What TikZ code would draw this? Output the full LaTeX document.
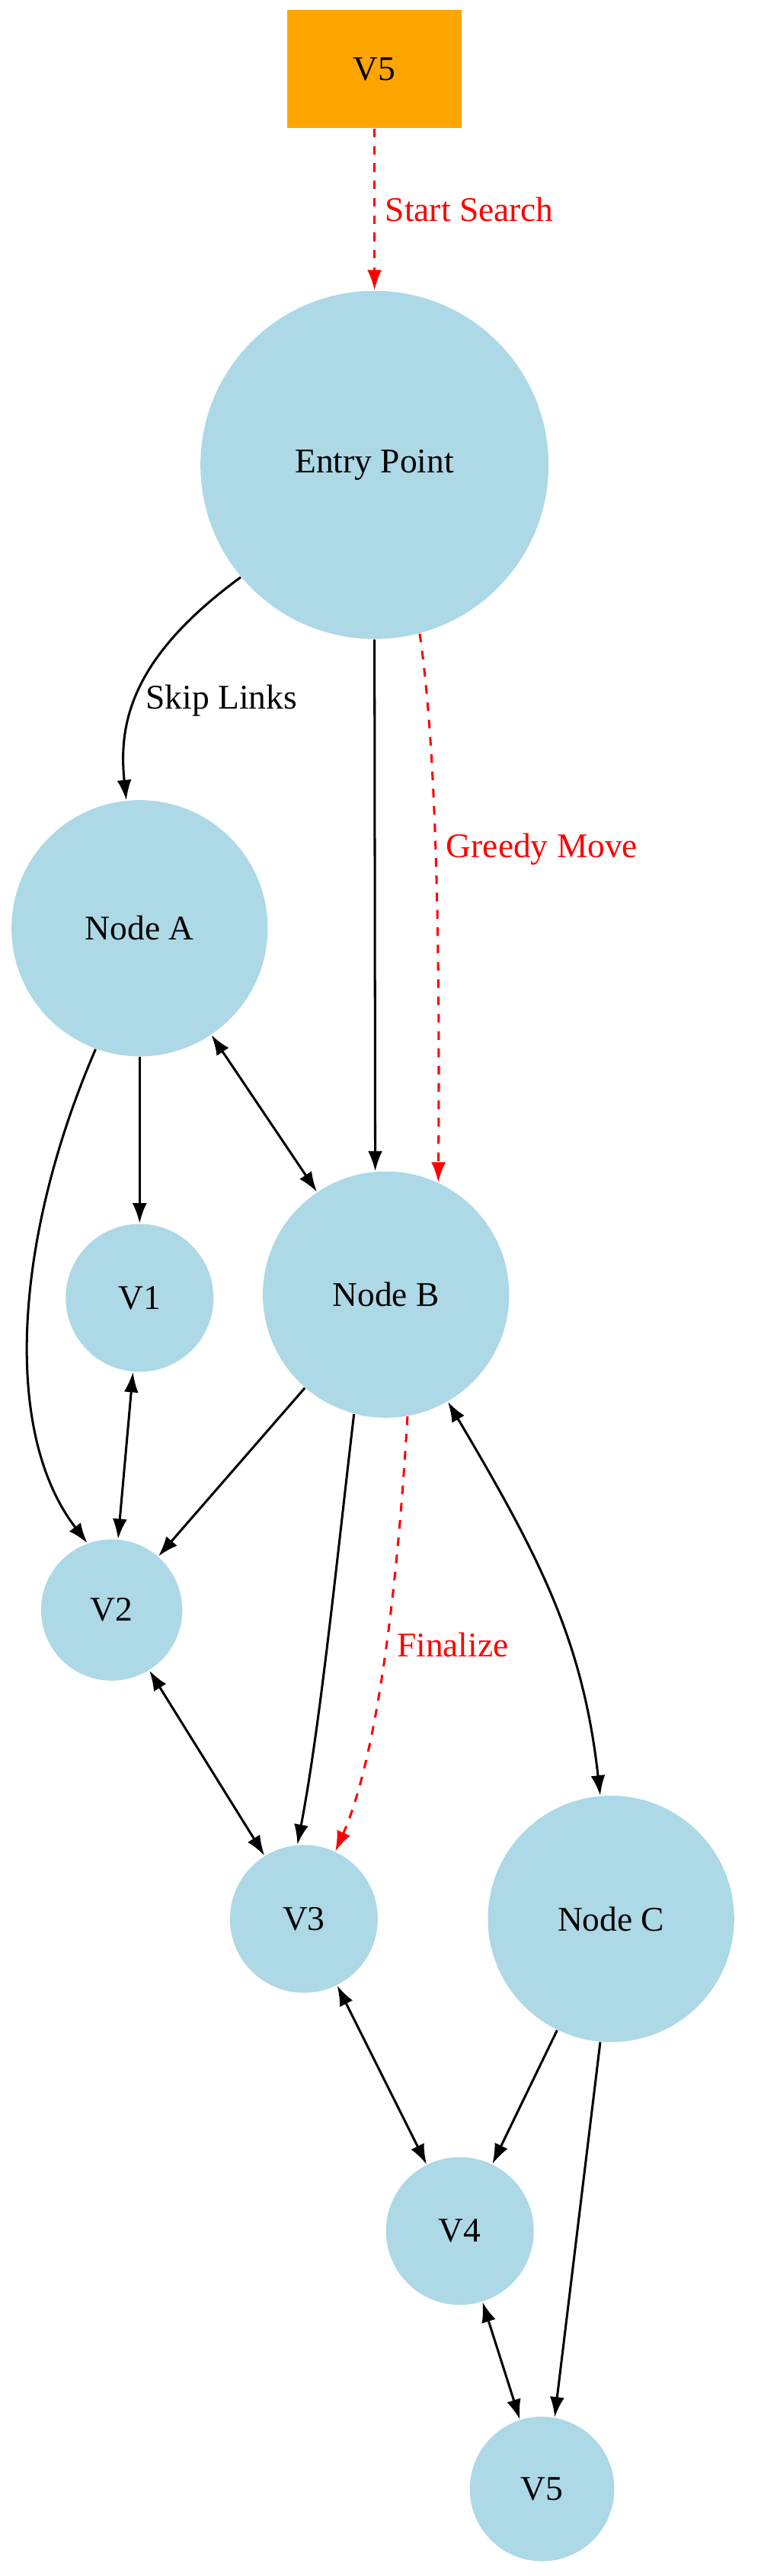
\documentclass[tikz,border=0pt]{standalone}
\usepackage{fontspec}
\setmainfont{Liberation Serif}
\usetikzlibrary{arrows.meta}
\definecolor{nodeblue}{HTML}{ADD8E6}
\definecolor{startorange}{HTML}{FFA500}
\tikzset{
  vert/.style={circle, fill=nodeblue, minimum size=#1*0.04cm, inner sep=0pt},
  startbox/.style={fill=startorange, minimum width=2.12cm, minimum height=1.44cm},
  link/.style={-{Latex[length=7pt,width=5pt]}, thick},
  both/.style={{Latex[length=7pt,width=5pt]}-{Latex[length=7pt,width=5pt]}, thick},
  search/.style={link, red, dashed},
  lbl/.style={font=\fontsize{12}{14}\selectfont, right}
}
\begin{document}
\begin{tikzpicture}[x=0.02cm, y=-0.02cm, font=\fontsize{12}{14}\selectfont]
        \useasboundingbox (0,0) rectangle (463,1568);
        % nodes
        \node[startbox] (start) at (228,42) {V5};
        \node[vert=106] (entry) at (228,283) {Entry Point};
        \node[vert=78] (na) at (85,565) {Node A};
        \node[vert=75] (nb) at (235,788) {Node B};
        \node[vert=45] (v1) at (85,790) {V1};
        \node[vert=43] (v2) at (68,980) {V2};
        \node[vert=45] (v3) at (185,1168) {V3};
        \node[vert=75] (nc) at (372,1168) {Node C};
        \node[vert=45] (v4) at (280,1358) {V4};
        \node[vert=44] (v5) at (330,1515) {V5};

        % search path
        \draw[search] (start) -- node[lbl, pos=0.5] {Start Search} (entry);
        \draw[search] (entry.-75) .. controls (265,450) and (268,560) .. node[lbl, pos=0.5] {Greedy Move} (nb.65);
        \draw[search] (nb.-80) .. controls (240,1000) and (225,1080) .. node[lbl, pos=0.4] {Finalize} (v3.65);

        % links
        \draw[link] (entry.-140) .. controls (80,400) and (72,440) .. node[lbl, pos=0.55] {Skip Links} (na);
        \draw[link] (entry.-90) -- (nb.95);
        \draw[link] (na) -- (v1);
        \draw[both] (na) -- (nb);
        \draw[link] (na.-110) .. controls (10,750) and (0,870) .. (v2.110);
        \draw[both] (v1) -- (v2);
        \draw[link] (nb) -- (v2);
        \draw[link] (nb.-105) .. controls (205,950) and (195,1050) .. (v3.95);
        \draw[both] (nb.-60) .. controls (330,950) and (355,1000) .. (nc.95);
        \draw[both] (v2) -- (v3);
        \draw[both] (v3) -- (v4);
        \draw[link] (nc) -- (v4);
        \draw[link] (nc.-95) -- (v5.80);
        \draw[both] (v4) -- (v5);
\end{tikzpicture}
\end{document}
